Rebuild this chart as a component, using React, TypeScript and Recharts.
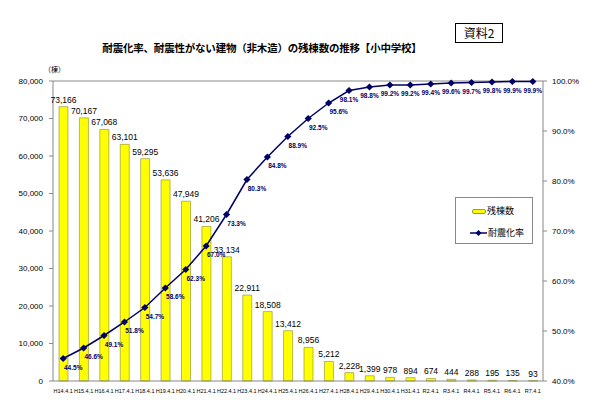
import { Bar, ComposedChart, LabelList, Line, ReferenceLine, XAxis, YAxis } from 'recharts'

// 年度（4月1日時点）
const categories = [
  'H14.4.1', 'H15.4.1', 'H16.4.1', 'H17.4.1', 'H18.4.1', 'H19.4.1', 'H20.4.1', 'H21.4.1',
  'H22.4.1', 'H23.4.1', 'H24.4.1', 'H25.4.1', 'H26.4.1', 'H27.4.1', 'H28.4.1', 'H29.4.1',
  'H30.4.1', 'H31.4.1', 'R2.4.1', 'R3.4.1', 'R4.4.1', 'R5.4.1', 'R6.4.1', 'R7.4.1'
]
// 残棟数（棟）
const remaining = [
  73166, 70167, 67068, 63101, 59295, 53636, 47949, 41206, 33134, 22911, 18508, 13412,
  8956, 5212, 2228, 1399, 978, 894, 674, 444, 288, 195, 135, 93
]
// 耐震化率（%）
const rate = [
  44.5, 46.6, 49.1, 51.8, 54.7, 58.6, 62.3, 67.0, 73.3, 80.3, 84.8, 88.9,
  92.5, 95.6, 98.1, 98.8, 99.2, 99.2, 99.4, 99.6, 99.7, 99.8, 99.9, 99.9
]
const leftTicks = [0, 10000, 20000, 30000, 40000, 50000, 60000, 70000, 80000]
const rightTicks = [40, 50, 60, 70, 80, 90, 100]

const chartData = categories.map((name, i) => ({ name, remaining: remaining[i], rate: rate[i] }))

const NAVY = '#000066'
const NUM_FONT = '"Liberation Sans", Arial, sans-serif'
const JP_FONT = '"Noto Sans CJK JP", sans-serif'

function Diamond(props: any) {
  const { cx, cy } = props
  if (cx == null || cy == null) return null
  const r = 3.6
  return <polygon points={`${cx},${cy - r} ${cx + r},${cy} ${cx},${cy + r} ${cx - r},${cy}`} fill={NAVY} />
}

function RateLabel(props: any) {
  const { x, y, value, index } = props
  const dx = index < 14 ? 10 : 0
  return (
    <text x={x + dx} y={y + 11} textAnchor="middle" fontSize={6.5} fontWeight="bold" fill={NAVY} fontFamily={NUM_FONT}>
      {Number(value).toFixed(1)}%
    </text>
  )
}

// 凡例（Excel風の枠付き）
function LegendBox() {
  return (
    <div
      style={{
        position: 'absolute',
        left: 455,
        top: 197,
        width: 78,
        height: 47,
        border: '1px solid #888',
        background: '#fff',
        fontFamily: JP_FONT,
        fontSize: 9,
        color: '#000',
        boxSizing: 'border-box'
      }}
    >
      <div style={{ display: 'flex', alignItems: 'center', marginTop: 8, marginLeft: 16 }}>
        <span style={{ width: 12, height: 3, background: '#ffff00', border: '1px solid #999933', borderRadius: 2 }} />
        <span style={{ marginLeft: 1, lineHeight: '10px' }}>残棟数</span>
      </div>
      <div style={{ display: 'flex', alignItems: 'center', marginTop: 12, marginLeft: 14 }}>
        <svg width={17} height={8}>
          <line x1={0} y1={4} x2={17} y2={4} stroke={NAVY} strokeWidth={1.5} />
          <polygon points="8.5,1 11.5,4 8.5,7 5.5,4" fill={NAVY} />
        </svg>
        <span style={{ marginLeft: 1, lineHeight: '10px' }}>耐震化率</span>
      </div>
    </div>
  )
}

export default function App() {
  return (
    <div style={{ position: 'absolute', left: 0, top: 0, width: 599, height: 400, background: '#fff' }}>
      <div
        style={{
          position: 'absolute',
          left: 455,
          top: 23,
          width: 48,
          height: 20,
          border: '1px solid #000',
          boxSizing: 'border-box',
          fontFamily: JP_FONT,
          fontSize: 12,
          lineHeight: '18px',
          textAlign: 'center'
        }}
      >
        資料2
      </div>
      <div
        style={{
          position: 'absolute',
          left: 0,
          width: 524,
          top: 39,
          textAlign: 'center',
          fontFamily: JP_FONT,
          fontSize: 10.5,
          letterSpacing: -0.2,
          fontWeight: 'bold',
          lineHeight: '18px'
        }}
      >
        耐震化率、耐震性がない建物（非木造）の残棟数の推移【小中学校】
      </div>
      <div style={{ position: 'absolute', left: 44, top: 64, fontFamily: JP_FONT, fontSize: 7 }}>（棟）</div>

      <ComposedChart
        width={599}
        height={400}
        data={chartData}
        margin={{ top: 81, right: 0, left: 0, bottom: 0 }}
        style={{ position: 'absolute', left: 0, top: 0 }}
      >
        <XAxis
          dataKey="name"
          interval={0}
          height={19}
          tickLine={false}
          tickMargin={2}
          axisLine={{ stroke: '#888' }}
          tick={{ fontSize: 5.5, fill: '#000', fontFamily: NUM_FONT }}
        />
        <YAxis
          yAxisId="left"
          width={53}
          domain={[0, 80000]}
          ticks={leftTicks}
          tickSize={4}
          tickMargin={6}
          axisLine={{ stroke: '#888' }}
          tickLine={{ stroke: '#888' }}
          tickFormatter={(v: number) => v.toLocaleString('en-US')}
          tick={{ fontSize: 8, fill: '#000', fontFamily: NUM_FONT }}
        />
        <YAxis
          yAxisId="right"
          orientation="right"
          width={56}
          domain={[40, 100]}
          ticks={rightTicks}
          tickSize={4}
          tickMargin={5}
          axisLine={{ stroke: '#888' }}
          tickLine={{ stroke: '#888' }}
          tickFormatter={(v: number) => `${v.toFixed(1)}%`}
          tick={{ fontSize: 8, fill: '#000', fontFamily: NUM_FONT }}
        />
        <ReferenceLine yAxisId="left" y={80000} stroke="#888" />
        <Bar
          yAxisId="left"
          dataKey="remaining"
          name="残棟数"
          barSize={9}
          fill="#ffff00"
          stroke="#8c8c2a"
          strokeWidth={0.6}
          isAnimationActive={false}
        >
          <LabelList
            dataKey="remaining"
            position="top"
            offset={4}
            formatter={(v: any) => Number(v).toLocaleString('en-US')}
            style={{ fontSize: 8.5, fill: '#000', fontFamily: NUM_FONT }}
          />
        </Bar>
        <Line
          yAxisId="right"
          dataKey="rate"
          name="耐震化率"
          stroke={NAVY}
          strokeWidth={1.5}
          dot={<Diamond />}
          activeDot={false}
          isAnimationActive={false}
        >
          <LabelList dataKey="rate" content={<RateLabel />} />
        </Line>
      </ComposedChart>
      <LegendBox />
    </div>
  )
}
